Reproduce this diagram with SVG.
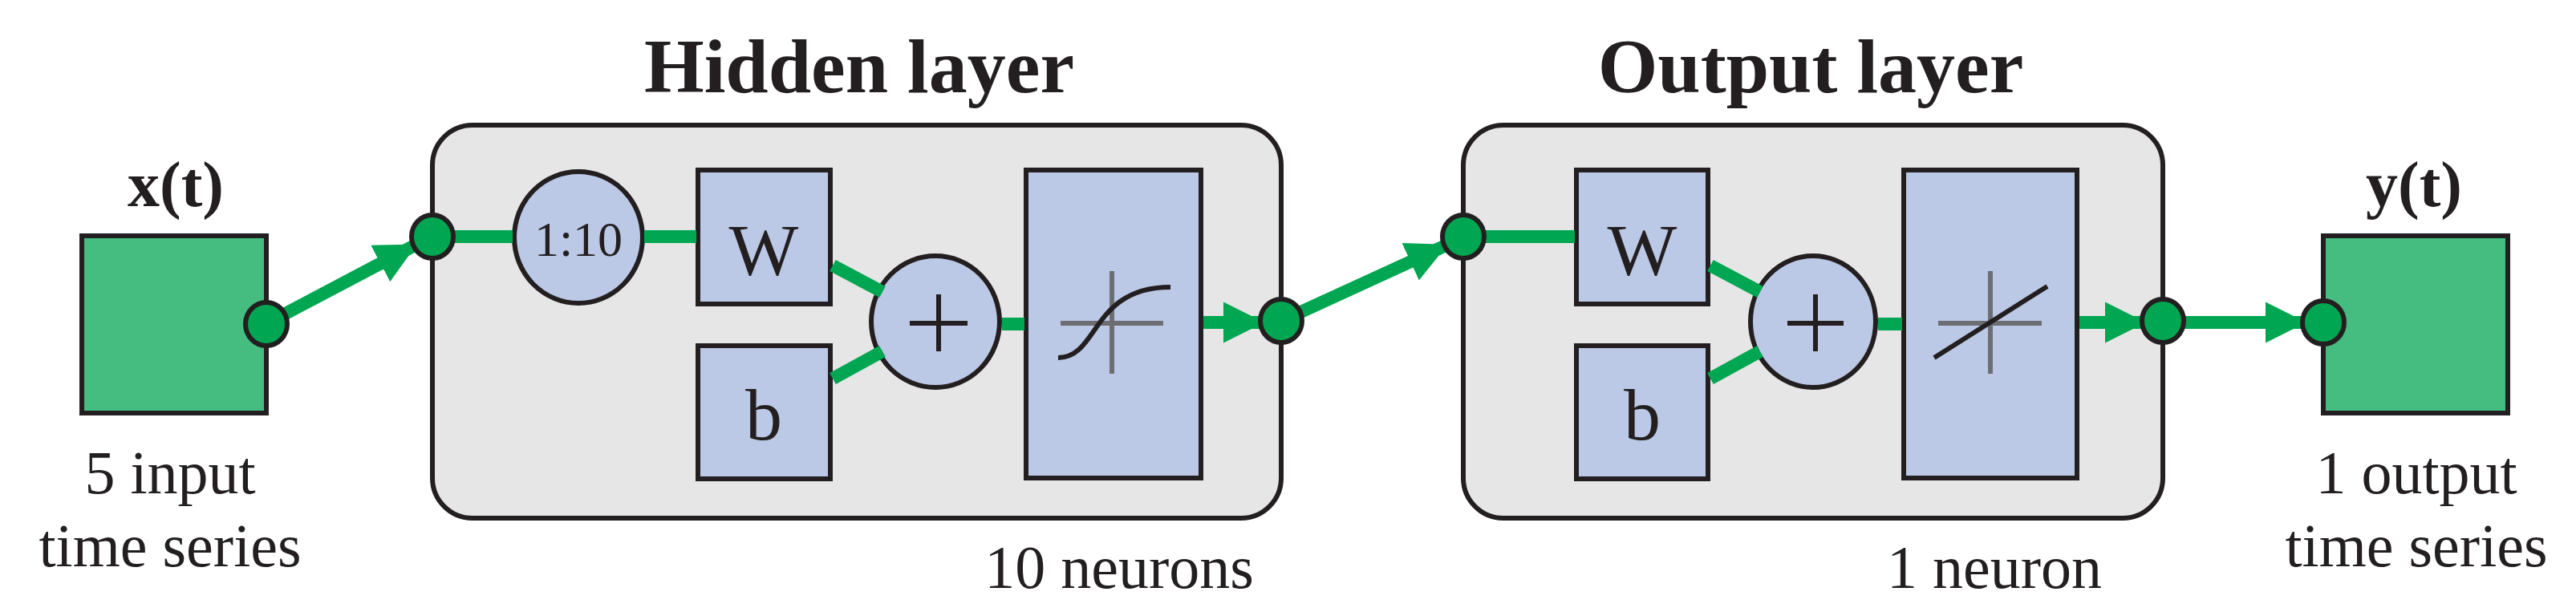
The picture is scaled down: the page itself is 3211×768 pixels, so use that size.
<svg xmlns="http://www.w3.org/2000/svg" width="3211" height="768" viewBox="0 0 3211 768">
<defs>
<marker id="ah" viewBox="0 0 10 10" refX="9" refY="5" markerWidth="3.2" markerHeight="3.4" markerUnits="strokeWidth" orient="auto"><path d="M0,0 L10,5 L0,10 Z" fill="#00A651"/></marker>
</defs>
<style>
.t{font-family:"Liberation Serif",serif;fill:#231F20;text-anchor:middle}
.b{font-weight:bold}
.ln{stroke:#00A651;stroke-width:16;fill:none}
.blk{stroke:#231F20;stroke-width:6}
.blue{fill:#BBC9E6}
.port{fill:#00A651;stroke:#231F20;stroke-width:6}
.gx{stroke:#6D6E71;stroke-width:6}
</style>
<rect width="3211" height="768" fill="#fff"/>
<g id="input">
<rect x="102" y="294" width="230" height="221" fill="#45BC80" class="blk"/>
<text class="t b" x="219" y="257" font-size="80">x(t)</text>
<text class="t" x="212" y="615" font-size="76">5 input</text>
<text class="t" x="212" y="706" font-size="76">time series</text>
</g>
<g id="hidden">
<rect x="539" y="156" width="1058" height="490" rx="50" fill="#E6E6E6" class="blk"/>
<text class="t b" x="1071" y="115" font-size="96">Hidden layer</text>
<text class="t" x="1395" y="733" font-size="76">10 neurons</text>
<ellipse cx="721" cy="296" rx="80" ry="82" class="blue blk"/>
<text class="t" x="721" y="319" font-size="62">1:10</text>
<rect x="870" y="212" width="165" height="167" class="blue blk"/>
<text class="t" x="952" y="343" font-size="92">W</text>
<rect x="870" y="431" width="165" height="166" class="blue blk"/>
<text class="t" x="952" y="548" font-size="92">b</text>
<ellipse cx="1166" cy="401" rx="80" ry="82" class="blue blk"/>
<line class="blk" x1="1134" y1="403" x2="1206" y2="403"/>
<line class="blk" x1="1170" y1="367" x2="1170" y2="438"/>
<rect x="1279" y="212" width="218" height="384" class="blue blk"/>
<line class="gx" x1="1322" y1="403" x2="1450" y2="403"/>
<line class="gx" x1="1386" y1="338" x2="1386" y2="466"/>
<path d="M1319,446 C1370,446 1360,358 1459,358" fill="none" stroke="#231F20" stroke-width="6"/>
</g>
<g id="output">
<rect x="1824" y="156" width="872" height="490" rx="50" fill="#E6E6E6" class="blk"/>
<text class="t b" x="2257" y="115" font-size="96">Output layer</text>
<text class="t" x="2486" y="733" font-size="76">1 neuron</text>
<rect x="1965" y="212" width="164" height="167" class="blue blk"/>
<text class="t" x="2047" y="343" font-size="92">W</text>
<rect x="1965" y="431" width="164" height="166" class="blue blk"/>
<text class="t" x="2047" y="548" font-size="92">b</text>
<ellipse cx="2260" cy="401" rx="78" ry="82" class="blue blk"/>
<line class="blk" x1="2228" y1="403" x2="2298" y2="403"/>
<line class="blk" x1="2263" y1="367" x2="2263" y2="438"/>
<rect x="2373" y="212" width="216" height="384" class="blue blk"/>
<line class="gx" x1="2416" y1="403" x2="2545" y2="403"/>
<line class="gx" x1="2481" y1="338" x2="2481" y2="466"/>
<line x1="2411" y1="446" x2="2552" y2="357" stroke="#231F20" stroke-width="6"/>
</g>
<g id="target">
<rect x="2896" y="294" width="230" height="221" fill="#45BC80" class="blk"/>
<text class="t b" x="3009" y="257" font-size="80">y(t)</text>
<text class="t" x="3012" y="615" font-size="76">1 output</text>
<text class="t" x="3012" y="706" font-size="76">time series</text>
</g>
<g id="connectors">
<line class="ln" x1="350" y1="394" x2="515" y2="307" marker-end="url(#ah)"/>
<line class="ln" x1="560" y1="295" x2="639" y2="295"/>
<line class="ln" x1="803" y1="295" x2="868" y2="295"/>
<line class="ln" x1="1038" y1="331" x2="1100" y2="364"/>
<line class="ln" x1="1038" y1="472" x2="1100" y2="438"/>
<line class="ln" x1="1249" y1="404" x2="1277" y2="404"/>
<line class="ln" x1="1500" y1="402" x2="1571" y2="402" marker-end="url(#ah)"/>
<line class="ln" x1="1617" y1="391" x2="1800" y2="307" marker-end="url(#ah)"/>
<line class="ln" x1="1845" y1="295" x2="1963" y2="295"/>
<line class="ln" x1="2132" y1="331" x2="2194" y2="364"/>
<line class="ln" x1="2132" y1="472" x2="2194" y2="438"/>
<line class="ln" x1="2341" y1="404" x2="2371" y2="404"/>
<line class="ln" x1="2592" y1="402" x2="2670" y2="402" marker-end="url(#ah)"/>
<line class="ln" x1="2720" y1="402" x2="2870" y2="402" marker-end="url(#ah)"/>
</g>
<g id="ports">
<ellipse class="port" cx="332" cy="404" rx="26" ry="27"/>
<ellipse class="port" cx="539" cy="295" rx="26" ry="27"/>
<ellipse class="port" cx="1597" cy="400" rx="26" ry="27"/>
<ellipse class="port" cx="1824" cy="295" rx="26" ry="27"/>
<ellipse class="port" cx="2696" cy="400" rx="26" ry="27"/>
<ellipse class="port" cx="2896" cy="402" rx="26" ry="27"/>
</g>
</svg>
